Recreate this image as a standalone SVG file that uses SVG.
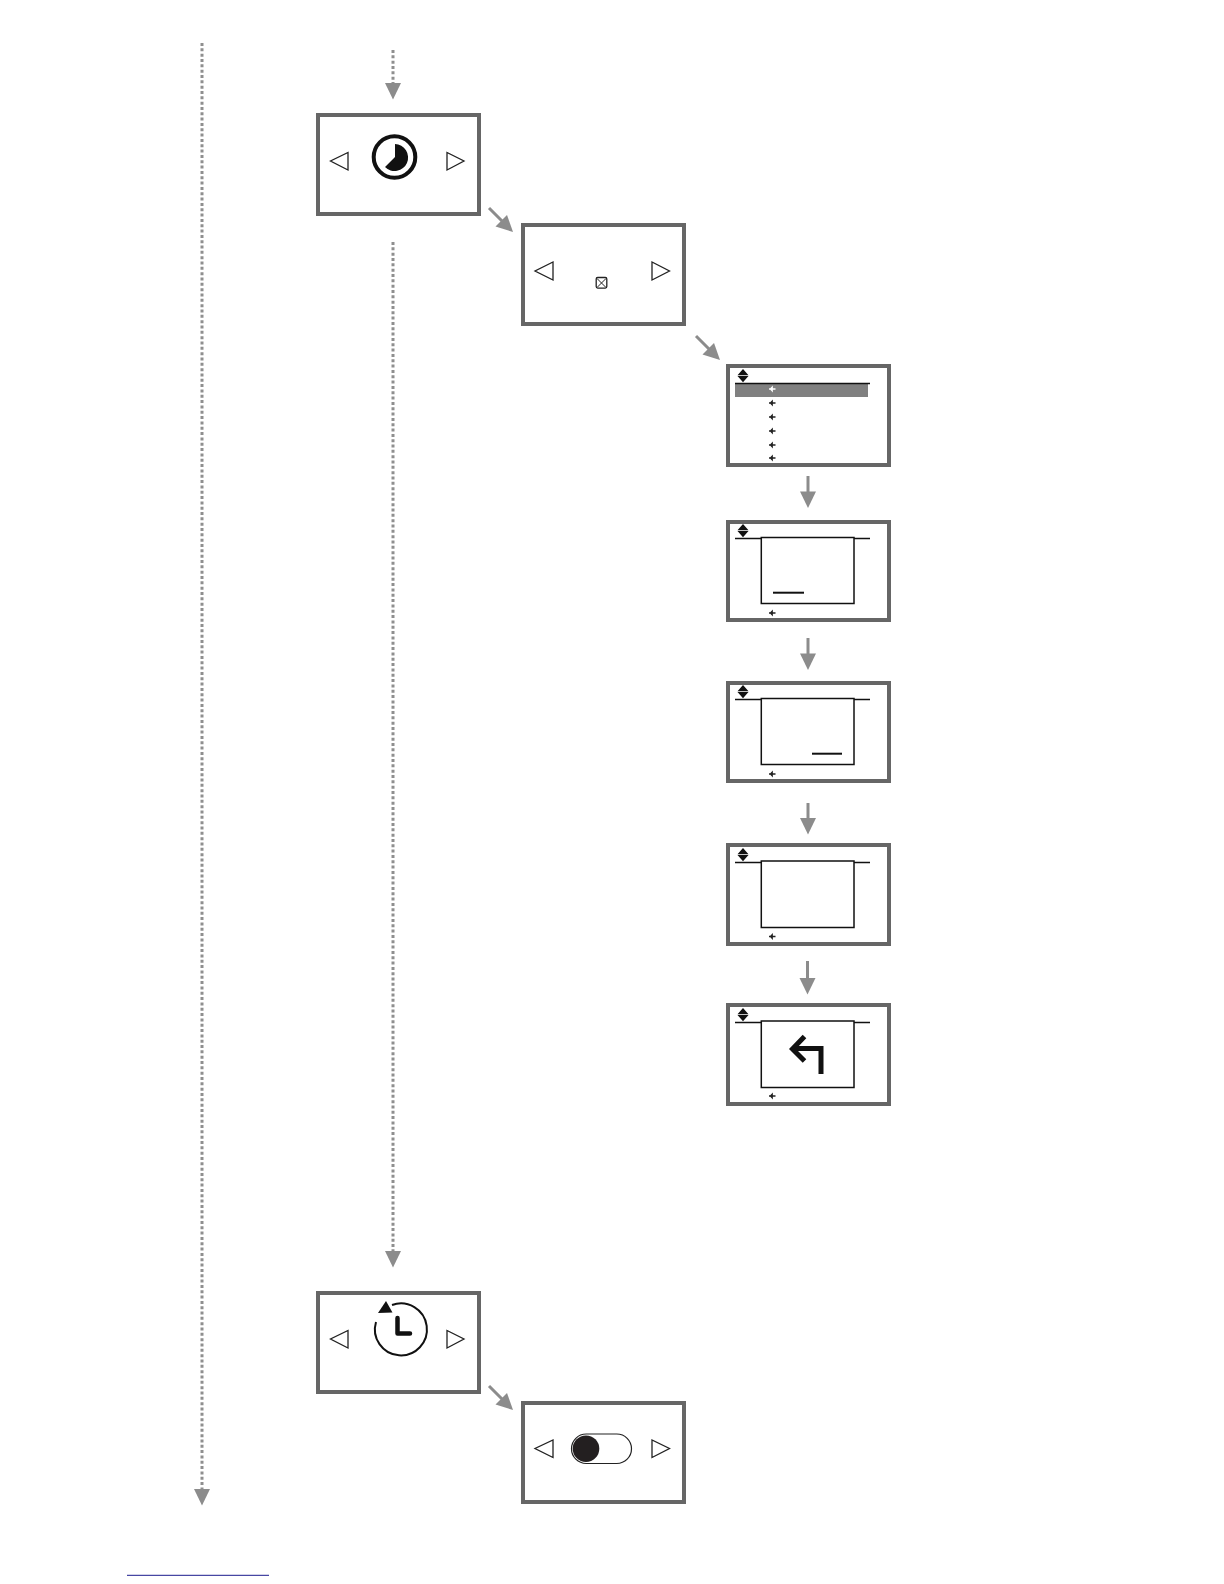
<svg xmlns="http://www.w3.org/2000/svg" width="1224" height="1584" viewBox="0 0 1224 1584">
<style>
.box{fill:#fff;stroke:#666;stroke-width:4}
.tri{fill:#fff;stroke:#222;stroke-width:1.3}
.thin{fill:none;stroke:#111;stroke-width:1.5}
.dot{fill:none;stroke:#8f8f8f;stroke-width:3;stroke-dasharray:3 2.33}
.sol{fill:none;stroke:#8c8c8c;stroke-width:3}
.head{fill:#8c8c8c}
.ink{fill:#111}
</style>
<defs>
<path id="updown" class="ink" d="M5.500 0L11 6.300H0ZM0 7H11L5.500 13.300Z"/>
<path id="small" d="M0 0H6.500M1.500 0L3.200 -1.800V1.800Z" stroke="#222" stroke-width="1.300" fill="#222"/>
<path id="dn" class="head" d="M-8 0H8L0 16.500Z"/>
</defs>
<rect width="1224" height="1584" fill="#fff"/>
<g id="connectors">
<path class="dot" d="M202 43V1489"/><use href="#dn" x="202" y="1489"/>
<path class="dot" d="M393 50V83"/><use href="#dn" x="393" y="83"/>
<path class="dot" d="M393 242V1251"/><use href="#dn" x="393" y="1251"/>
<path class="sol" d="M489 208L504 223"/><path class="head" d="M513 232L495.500 226.500L507 215Z"/>
<path class="sol" d="M696 336L711 351"/><path class="head" d="M720 360L702.500 354.500L714 343Z"/>
<path class="sol" d="M489 1386L504 1401"/><path class="head" d="M513 1410L495.500 1404.500L507 1393Z"/>
<path class="sol" d="M808 476V493"/><use href="#dn" x="808" y="491.500"/>
<path class="sol" d="M808 638V656"/><use href="#dn" x="808" y="653.500"/>
<path class="sol" d="M808 803V820"/><use href="#dn" x="808" y="818"/>
<path class="sol" d="M807.500 961V980"/><use href="#dn" x="807.500" y="978"/>
</g>
<g id="node-timer">
<rect class="box" x="318" y="115" width="161" height="99"/>
<path class="tri" d="M348 152.500V170L330.500 161ZM447 152.500V170L464 161Z"/>
<circle cx="394.500" cy="157" r="20.800" fill="none" stroke="#111" stroke-width="4"/>
<path class="ink" d="M395 144A13.500 13.500 0 1 1 385 167L395 157Z"/>
</g>
<g id="node-selector">
<rect class="box" x="523" y="225" width="161" height="99"/>
<path class="tri" d="M553 262V280L535 271ZM652 262V280L669.500 271Z"/>
<rect x="596.200" y="277.500" width="10.600" height="10.600" rx="1.500" fill="none" stroke="#222" stroke-width="1.300"/>
<path d="M597 278.500L606 287.500M606 278.500L597 287.500" stroke="#222" stroke-width="1"/>
</g>
<g id="node-list">
<rect class="box" x="728" y="366" width="161" height="99"/>
<use href="#updown" x="737.500" y="369"/>
<rect x="735" y="383.500" width="133" height="13.500" fill="#808080"/>
<path d="M735 383.500H870" stroke="#111" stroke-width="1.400"/>
<path d="M769 389H775.500M770.500 389L772.200 387.200V390.800Z" stroke="#fff" stroke-width="1.300" fill="#fff"/>
<use href="#small" x="769" y="403"/>
<use href="#small" x="769" y="417"/>
<use href="#small" x="769" y="431"/>
<use href="#small" x="769" y="445"/>
<use href="#small" x="769" y="458"/>
</g>
<g id="node-entry-1">
<rect class="box" x="728" y="522" width="161" height="98"/>
<use href="#updown" x="737.500" y="524"/>
<path class="thin" d="M735 538.500H761M854 538.500H870"/>
<rect class="thin" x="761.300" y="537.500" width="92.700" height="66"/>
<path d="M773 592.700H804" stroke="#111" stroke-width="2"/>
<use href="#small" x="769" y="613"/>
</g>
<g id="node-entry-2">
<rect class="box" x="728" y="683" width="161" height="98"/>
<use href="#updown" x="737.500" y="685"/>
<path class="thin" d="M735 699.500H761M854 699.500H870"/>
<rect class="thin" x="761.300" y="698.500" width="92.700" height="66"/>
<path d="M812 753.700H842" stroke="#111" stroke-width="2"/>
<use href="#small" x="769" y="774"/>
</g>
<g id="node-entry-3">
<rect class="box" x="728" y="845" width="161" height="99"/>
<use href="#updown" x="737.500" y="848"/>
<path class="thin" d="M735 862.500H761M854 862.500H870"/>
<rect class="thin" x="761.300" y="861" width="92.700" height="66.500"/>
<use href="#small" x="769" y="936.500"/>
</g>
<g id="node-entry-4">
<rect class="box" x="728" y="1005" width="161" height="99"/>
<use href="#updown" x="737.500" y="1008"/>
<path class="thin" d="M735 1022.500H761M854 1022.500H870"/>
<rect class="thin" x="761.300" y="1021" width="92.700" height="66.500"/>
<path d="M821 1074V1048.500H793M804.500 1036.500L792.500 1049L804.500 1061" fill="none" stroke="#111" stroke-width="5"/>
<use href="#small" x="769" y="1096"/>
</g>
<g id="node-clock">
<rect class="box" x="318" y="1293" width="161" height="99"/>
<path class="tri" d="M348 1330.500V1348L330.500 1339ZM447 1330.500V1348L464 1339Z"/>
<path d="M376 1322A26 26 0 1 0 392 1305" fill="none" stroke="#111" stroke-width="2"/>
<path class="ink" d="M386 1301L378 1313L392.500 1312.500Z"/>
<path d="M397.500 1318V1333.500H410" fill="none" stroke="#111" stroke-width="4.500" stroke-linecap="round" stroke-linejoin="round"/>
</g>
<g id="node-toggle">
<rect class="box" x="523" y="1403" width="161" height="99"/>
<path class="tri" d="M553 1440V1457.500L535 1448.500ZM652 1440V1457.500L669.500 1448.500Z"/>
<rect x="571.500" y="1434" width="60" height="29.500" rx="14.750" fill="#fff" stroke="#222" stroke-width="1.200"/>
<circle cx="586" cy="1448.700" r="13.300" fill="#231f20"/>
</g>
<path id="footer-rule" d="M127 1575.300H269" stroke="#1a1a8c" stroke-width="1"/>
</svg>
